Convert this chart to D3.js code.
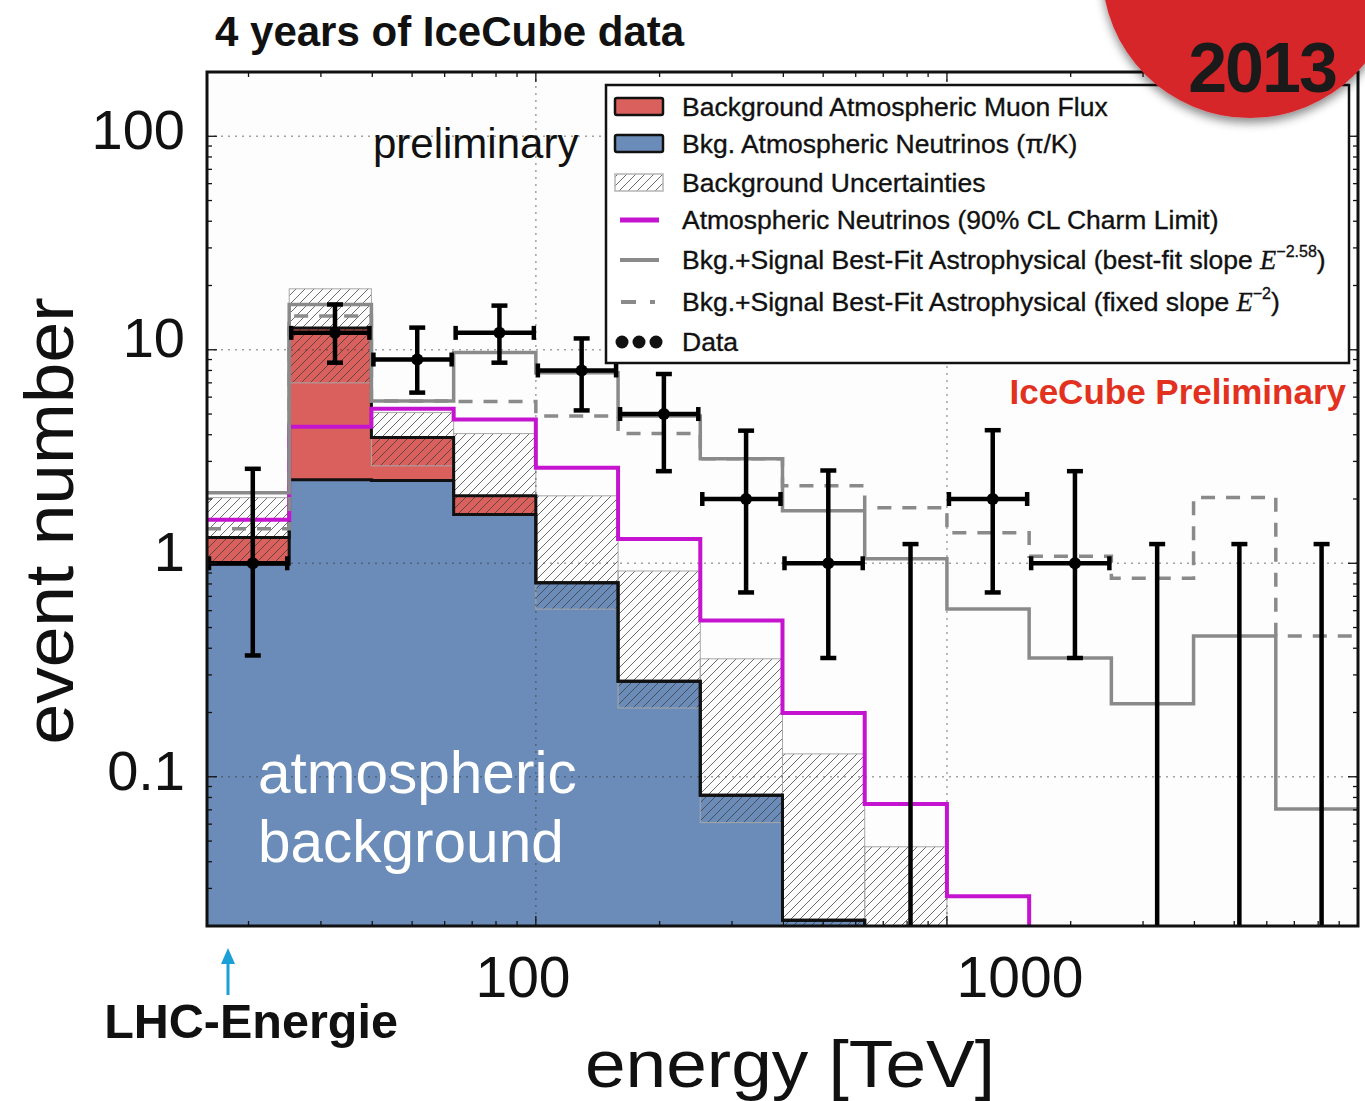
<!DOCTYPE html>
<html>
<head>
<meta charset="utf-8">
<script src="https://cdn.jsdelivr.net/npm/d3@7"></script>
<style>
  html, body { margin: 0; padding: 0; background: #fff; }
  svg { display: block; font-family: "Liberation Sans", Arial, Helvetica, sans-serif; }
</style>
</head>
<body>
<svg id="chart" width="1365" height="1101"></svg>
<script>
// Energy bins in TeV, 0.2 decades wide from 10^1.2 to 10^4
const binEdges = [15.85, 25.12, 39.81, 63.10, 100, 158.5, 251.2, 398.1, 631.0, 1000, 1585, 2512, 3981, 6310, 10000];
// Stacked background expectation (events per bin)
const atmNeutrinos = [0.99, 2.46, 2.44, 1.69, 0.81, 0.28, 0.082, 0.0213, 0, 0, 0, 0, 0, 0];
const atmMuons     = [0.33, 10.2, 1.44, 0.38, 0, 0, 0, 0, 0, 0, 0, 0, 0, 0];
// Background uncertainty band
const bkgUncLow  = [0.99, 7.0, 2.86, 1.69, 0.61, 0.21, 0.061, 0.015, 0, 0, 0, 0, 0, 0];
const bkgUncHigh = [2.03, 19.3, 5.08, 4.05, 2.07, 0.92, 0.357, 0.128, 0.047, 0, 0, 0, 0, 0];
// Model curves
const charmLimit   = [1.6, 4.36, 5.3, 4.71, 2.8, 1.30, 0.54, 0.199, 0.0745, 0.0276, 0, 0, 0, 0];
const bestFitSlope = [2.14, 16.3, 5.76, 9.7, 7.8, 4.9, 3.09, 1.76, 1.05, 0.61, 0.36, 0.22, 0.457, 0.0707];
const fixedSlope   = [1.45, 14.4, 5.76, 5.72, 4.9, 4.05, 3.09, 2.31, 1.82, 1.39, 1.08, 0.85, 2.03, 0.457];
// Observed events with 68% intervals
const dataCounts  = [1, 12, 9, 12, 8, 5, 2, 1, 0, 2, 1, 0, 0, 0];
const dataErrLow  = [0.37, 8.7, 6.3, 8.7, 5.2, 2.7, 0.73, 0.36, 0, 0.73, 0.36, 0, 0, 0];
const dataErrHigh = [2.77, 16.3, 12.7, 16.1, 11.3, 7.7, 4.18, 2.72, 1.23, 4.2, 2.7, 1.23, 1.23, 1.23];
// Axis labels
const yTickValues = [0.1, 1, 10, 100];
const xTickValues = [100, 1000];
const legendLabels = [
  "Background Atmospheric Muon Flux",
  "Bkg. Atmospheric Neutrinos (π/K)",
  "Background Uncertainties",
  "Atmospheric Neutrinos (90% CL Charm Limit)",
  "Bkg.+Signal Best-Fit Astrophysical (best-fit slope ",
  "Bkg.+Signal Best-Fit Astrophysical (fixed slope ",
  "Data"
];
const slopeExponents = [null, null, null, null, "−2.58", "−2", null];

const COLORS = {
  blue: "#6b8cb8", red: "#d9605d", magenta: "#c414cf", gray: "#8a8a8a",
  grid: "#333", badge: "#d7262c", note: "#e2321f", arrow: "#1aa0d6"
};

const svg = d3.select("#chart");
const plot = { left: 207, right: 1358, top: 72, bottom: 926 };

const x = d3.scaleLog().domain([binEdges[0], binEdges[binEdges.length - 1]]).range([plot.left, plot.right]);
const y = d3.scaleLog().domain([0.02, 200]).range([plot.bottom, plot.top]);
const FLOOR = 1e-3;                       // empty bins fall below the visible range
const yv = v => y(Math.max(v, FLOOR));

const defs = svg.append("defs");
defs.append("clipPath").attr("id", "plotClip")
  .append("rect").attr("x", plot.left).attr("y", plot.top)
  .attr("width", plot.right - plot.left).attr("height", plot.bottom - plot.top);

const hatch = defs.append("pattern").attr("id", "hatch")
  .attr("patternUnits", "userSpaceOnUse").attr("width", 9).attr("height", 9);
hatch.append("path").attr("d", "M-2,2 L2,-2 M0,9 L9,0 M7,11 L11,7")
  .attr("stroke", "#3a3a3a").attr("stroke-width", 1).attr("stroke-opacity", 0.75);

const shadow = defs.append("filter").attr("id", "badgeShadow")
  .attr("x", "-30%").attr("y", "-30%").attr("width", "160%").attr("height", "160%");
shadow.append("feDropShadow").attr("dx", 0).attr("dy", 5).attr("stdDeviation", 5)
  .attr("flood-color", "#000").attr("flood-opacity", 0.45);

// plot background
svg.append("rect").attr("x", plot.left).attr("y", plot.top)
  .attr("width", plot.right - plot.left).attr("height", plot.bottom - plot.top)
  .attr("fill", "#fdfdfd");

const g = svg.append("g").attr("clip-path", "url(#plotClip)");

function stepPoints(vals) {
  const pts = [];
  vals.forEach((v, i) => { pts.push([binEdges[i], v]); pts.push([binEdges[i + 1], v]); });
  return pts;
}
const stepLine = d3.line().x(d => x(d[0])).y(d => yv(d[1]));
const totalBkg = atmNeutrinos.map((v, i) => v + atmMuons[i]);

// stacked background fills
g.append("path")
  .attr("d", d3.area().x(d => x(d[0])).y0(plot.bottom + 10).y1(d => yv(d[1]))(stepPoints(atmNeutrinos)))
  .attr("fill", COLORS.blue);

const redPts = [];
atmNeutrinos.forEach((v, i) => {
  redPts.push([binEdges[i], v, totalBkg[i]]);
  redPts.push([binEdges[i + 1], v, totalBkg[i]]);
});
g.append("path")
  .attr("d", d3.area().x(d => x(d[0])).y0(d => yv(d[1])).y1(d => yv(d[2]))(redPts))
  .attr("fill", COLORS.red);

// background uncertainty band
g.selectAll("rect.unc").data(bkgUncHigh.map((hi, i) => ({ i, hi, lo: bkgUncLow[i] })).filter(d => d.hi > 0))
  .join("rect").attr("class", "unc")
  .attr("x", d => x(binEdges[d.i]))
  .attr("width", d => x(binEdges[d.i + 1]) - x(binEdges[d.i]))
  .attr("y", d => y(d.hi))
  .attr("height", d => yv(d.lo) - y(d.hi))
  .attr("fill", "url(#hatch)")
  .attr("stroke", "#a8a8a8").attr("stroke-width", 1);

// dotted decade grid
g.selectAll("line.gx").data(xTickValues).join("line").attr("class", "gx")
  .attr("x1", d => x(d)).attr("x2", d => x(d)).attr("y1", plot.top).attr("y2", plot.bottom)
  .attr("stroke", COLORS.grid).attr("stroke-opacity", 0.45).attr("stroke-width", 1.5)
  .attr("stroke-dasharray", "2,5");
g.selectAll("line.gy").data(yTickValues).join("line").attr("class", "gy")
  .attr("y1", d => y(d)).attr("y2", d => y(d)).attr("x1", plot.left).attr("x2", plot.right)
  .attr("stroke", COLORS.grid).attr("stroke-opacity", 0.45).attr("stroke-width", 1.5)
  .attr("stroke-dasharray", "2,5");

// histogram outlines
g.append("path").attr("d", stepLine(stepPoints(totalBkg)))
  .attr("fill", "none").attr("stroke", "#111").attr("stroke-width", 3);
g.append("path").attr("d", stepLine(stepPoints(atmNeutrinos)))
  .attr("fill", "none").attr("stroke", "#111").attr("stroke-width", 3);

// model lines
g.append("path").attr("d", stepLine(stepPoints(charmLimit)))
  .attr("fill", "none").attr("stroke", COLORS.magenta).attr("stroke-width", 4);
g.append("path").attr("d", stepLine(stepPoints(bestFitSlope)))
  .attr("fill", "none").attr("stroke", COLORS.gray).attr("stroke-width", 3.5);
g.append("path").attr("d", stepLine(stepPoints(fixedSlope)))
  .attr("fill", "none").attr("stroke", COLORS.gray).attr("stroke-width", 3.5)
  .attr("stroke-dasharray", "14,11");

// data points, placed at the linear centre of each bin
const pts = dataCounts.map((n, i) => ({
  n, lo: dataErrLow[i], hi: dataErrHigh[i],
  x0: binEdges[i], x1: binEdges[i + 1],
  xc: (binEdges[i] + binEdges[i + 1]) / 2
}));
const dg = g.append("g").attr("stroke", "#000").attr("stroke-width", 4.5).attr("fill", "#000");
pts.forEach(p => {
  const cx = x(p.xc);
  const yTop = y(p.hi);
  const yBot = p.lo > 0 ? y(p.lo) : plot.bottom + 5;
  dg.append("line").attr("x1", cx).attr("x2", cx).attr("y1", yTop).attr("y2", yBot);
  dg.append("line").attr("x1", cx - 8).attr("x2", cx + 8).attr("y1", yTop).attr("y2", yTop);
  if (p.n > 0) {
    dg.append("line").attr("x1", cx - 8).attr("x2", cx + 8).attr("y1", yBot).attr("y2", yBot);
    const cy = y(p.n), xa = x(p.x0) + 2, xb = x(p.x1) - 2;
    dg.append("line").attr("x1", xa).attr("x2", xb).attr("y1", cy).attr("y2", cy);
    dg.append("line").attr("x1", xa).attr("x2", xa).attr("y1", cy - 7).attr("y2", cy + 7);
    dg.append("line").attr("x1", xb).attr("x2", xb).attr("y1", cy - 7).attr("y2", cy + 7);
    dg.append("circle").attr("cx", cx).attr("cy", cy).attr("r", 6).attr("stroke", "none");
  }
});

// inward ticks on all four sides
const axes = svg.append("g").attr("stroke", "#111").attr("stroke-width", 1.3);
const isDecade = v => Math.abs(Math.log10(v) - Math.round(Math.log10(v))) < 1e-6;
x.ticks().forEach(t => {
  const len = isDecade(t) ? 10 : 5, xx = x(t);
  axes.append("line").attr("x1", xx).attr("x2", xx).attr("y1", plot.bottom).attr("y2", plot.bottom - len);
  axes.append("line").attr("x1", xx).attr("x2", xx).attr("y1", plot.top).attr("y2", plot.top + len);
});
y.ticks().forEach(t => {
  const len = isDecade(t) ? 10 : 5, yy = y(t);
  axes.append("line").attr("y1", yy).attr("y2", yy).attr("x1", plot.left).attr("x2", plot.left + len);
  axes.append("line").attr("y1", yy).attr("y2", yy).attr("x1", plot.right).attr("x2", plot.right - len);
});

// frame
svg.append("rect").attr("x", plot.left).attr("y", plot.top)
  .attr("width", plot.right - plot.left).attr("height", plot.bottom - plot.top)
  .attr("fill", "none").attr("stroke", "#111").attr("stroke-width", 3);

// y axis labels
const yAxis = svg.append("g").attr("transform", `translate(${plot.left},0)`)
  .call(d3.axisLeft(y).tickValues(yTickValues).tickSize(0).tickPadding(22)
    .tickFormat(d => d3.format("~g")(d)));
yAxis.select(".domain").remove();
yAxis.selectAll("text").attr("font-size", 56).attr("font-family", "Liberation Sans, Arial, sans-serif")
  .attr("fill", "#111").attr("dy", d => (d === 10 || d === 1) ? "0.12em" : "0.22em");

// x axis labels (large, below the frame)
const xLabelPos = [{ v: "100", cx: 523 }, { v: "1000", cx: 1020 }];
svg.selectAll("text.xl").data(xLabelPos).join("text").attr("class", "xl")
  .attr("x", d => d.cx).attr("y", 997).attr("text-anchor", "middle")
  .attr("font-size", 57).attr("fill", "#111").text(d => d.v);

// axis titles
svg.append("text").attr("transform", "translate(73,521) rotate(-90)")
  .attr("text-anchor", "middle").attr("font-size", 68).attr("fill", "#111")
  .attr("textLength", 447).attr("lengthAdjust", "spacingAndGlyphs").text("event number");
svg.append("text").attr("x", 790).attr("y", 1087).attr("text-anchor", "middle")
  .attr("font-size", 66).attr("fill", "#111")
  .attr("textLength", 410).attr("lengthAdjust", "spacingAndGlyphs").text("energy [TeV]");

// annotations
svg.append("text").attr("x", 215).attr("y", 46).attr("font-size", 42).attr("font-weight", "bold")
  .attr("fill", "#111").text("4 years of IceCube data");
svg.append("text").attr("x", 373).attr("y", 158).attr("font-size", 42).attr("fill", "#111").text("preliminary");
svg.append("text").attr("x", 258).attr("y", 793).attr("font-size", 58.5).attr("fill", "#fff").text("atmospheric");
svg.append("text").attr("x", 258).attr("y", 862).attr("font-size", 58.5).attr("fill", "#fff").text("background");
svg.append("text").attr("x", 1346).attr("y", 404).attr("text-anchor", "end").attr("font-size", 35)
  .attr("font-weight", "bold").attr("fill", COLORS.note).text("IceCube Preliminary");

// LHC energy marker
svg.append("line").attr("x1", 228).attr("x2", 228).attr("y1", 995).attr("y2", 960)
  .attr("stroke", COLORS.arrow).attr("stroke-width", 3);
svg.append("path").attr("d", "M228,948 L221,964 L235,964 Z").attr("fill", COLORS.arrow);
svg.append("text").attr("x", 251).attr("y", 1038).attr("text-anchor", "middle").attr("font-size", 48.5)
  .attr("font-weight", "bold").attr("fill", "#111").text("LHC-Energie");

// legend
const lg = svg.append("g");
lg.append("rect").attr("x", 606).attr("y", 85).attr("width", 743).attr("height", 278)
  .attr("fill", "#fff").attr("stroke", "#111").attr("stroke-width", 2.5);
const rowY = [107, 144, 183, 220, 260, 302, 342];
lg.append("rect").attr("x", 615).attr("y", rowY[0] - 9).attr("width", 48).attr("height", 17).attr("rx", 2)
  .attr("fill", COLORS.red).attr("stroke", "#111").attr("stroke-width", 2.5);
lg.append("rect").attr("x", 615).attr("y", rowY[1] - 9).attr("width", 48).attr("height", 17).attr("rx", 2)
  .attr("fill", COLORS.blue).attr("stroke", "#111").attr("stroke-width", 2.5);
lg.append("rect").attr("x", 615).attr("y", rowY[2] - 9).attr("width", 48).attr("height", 17)
  .attr("fill", "url(#hatch)").attr("stroke", "#b5b5b5").attr("stroke-width", 1.5);
lg.append("line").attr("x1", 620).attr("x2", 659).attr("y1", rowY[3]).attr("y2", rowY[3])
  .attr("stroke", COLORS.magenta).attr("stroke-width", 5);
lg.append("line").attr("x1", 620).attr("x2", 659).attr("y1", rowY[4]).attr("y2", rowY[4])
  .attr("stroke", COLORS.gray).attr("stroke-width", 4);
lg.append("line").attr("x1", 621).attr("x2", 657).attr("y1", rowY[5]).attr("y2", rowY[5])
  .attr("stroke", COLORS.gray).attr("stroke-width", 4).attr("stroke-dasharray", "15,14,5,30");
[622, 639, 656].forEach(cx => lg.append("circle").attr("cx", cx).attr("cy", rowY[6]).attr("r", 6.5).attr("fill", "#111"));

const legendLengths = [426, 391, 305, 536, null, null, 55];
legendLabels.forEach((lab, i) => {
  const t = lg.append("text").attr("x", 682).attr("y", rowY[i] + 9).attr("font-size", 26.5)
    .attr("fill", "#111").attr("stroke", "#111").attr("stroke-width", 0.35);
  t.append("tspan").text(lab);
  if (slopeExponents[i]) {
    t.append("tspan").attr("font-family", "Liberation Serif, serif").attr("font-style", "italic").text("E");
    t.append("tspan").attr("font-size", 16).attr("dy", -12).text(slopeExponents[i]);
    t.append("tspan").attr("dy", 12).text(")");
  }
});

// year badge
const badge = svg.append("g");
badge.append("circle").attr("cx", 1250).attr("cy", -30).attr("r", 148)
  .attr("fill", COLORS.badge).attr("filter", "url(#badgeShadow)");
badge.append("text").attr("x", 1262).attr("y", 92).attr("text-anchor", "middle")
  .attr("font-size", 70).attr("font-weight", "bold").attr("fill", "#1a1a1a")
  .attr("letter-spacing", -2).text("2013");
</script>
</body>
</html>
